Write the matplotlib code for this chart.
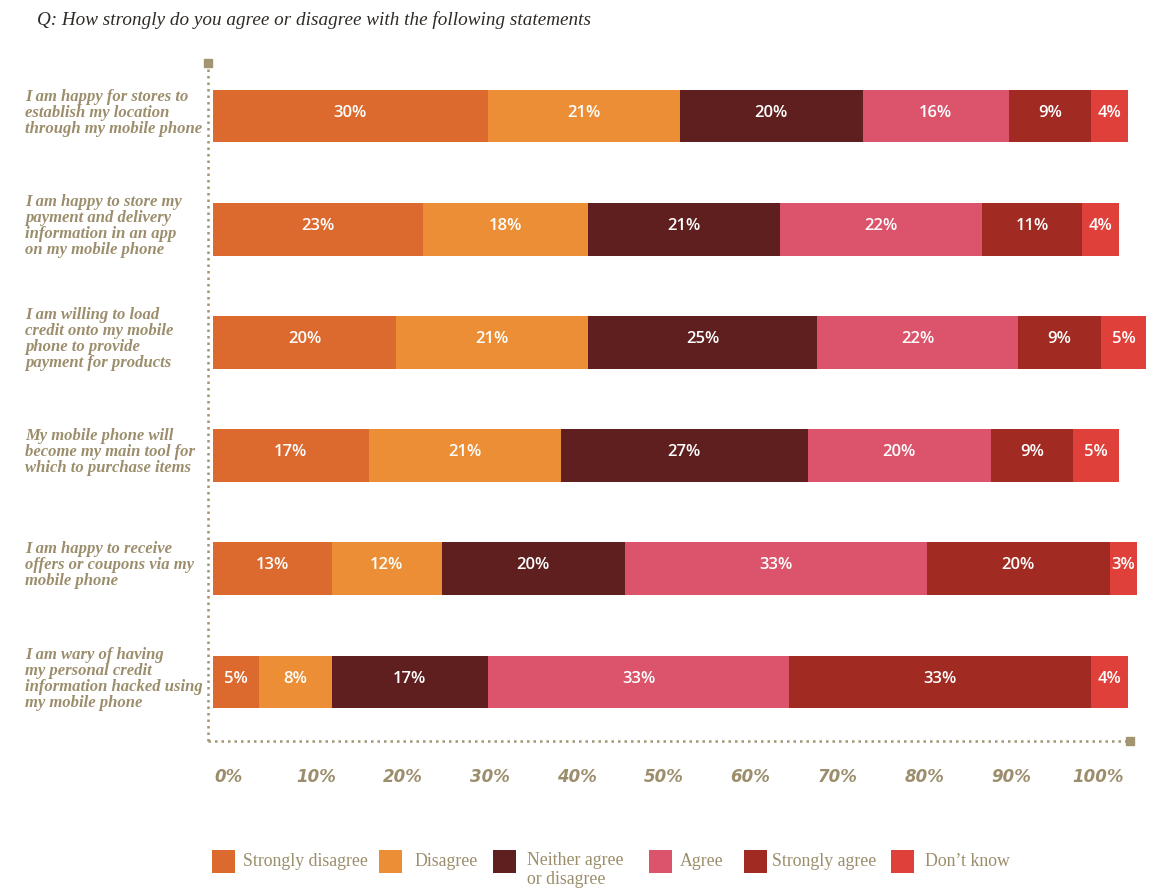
import matplotlib
matplotlib.use("Agg")
import numpy as np
import matplotlib.pyplot as plt
from matplotlib.patches import Rectangle
from matplotlib.transforms import blended_transform_factory

# ---- data -------------------------------------------------------------
statements = [
    "I am happy for stores to\nestablish my location\nthrough my mobile phone",
    "I am happy to store my\npayment and delivery\ninformation in an app\non my mobile phone",
    "I am willing to load\ncredit onto my mobile\nphone to provide\npayment for products",
    "My mobile phone will\nbecome my main tool for\nwhich to purchase items",
    "I am happy to receive\noffers or coupons via my\nmobile phone",
    "I am wary of having\nmy personal credit\ninformation hacked using\nmy mobile phone",
]
categories = ["Strongly disagree", "Disagree", "Neither agree\nor disagree",
              "Agree", "Strongly agree", "Don\u2019t know"]
strongly_disagree = [30, 23, 20, 17, 13, 5]
disagree = [21, 18, 21, 21, 12, 8]
neither = [20, 21, 25, 27, 20, 17]
agree = [16, 22, 22, 20, 33, 33]
strongly_agree = [9, 11, 9, 9, 20, 33]
dont_know = [4, 4, 5, 5, 3, 4]
tick_labels = ["0%", "10%", "20%", "30%", "40%", "50%",
               "60%", "70%", "80%", "90%", "100%"]

series = [strongly_disagree, disagree, neither, agree, strongly_agree, dont_know]
colors = ["#DC6A2F", "#EB8E35", "#5E1F1E", "#DB546B", "#A12A22", "#E0403A"]
TEXT = "#9C8E6C"
AXIS = "#A39572"

# ---- figure -----------------------------------------------------------
W, H = 1152, 891
fig = plt.figure(figsize=(W / 100, H / 100), dpi=100)

def fx(px):
    return px / W

def fy(py):
    return 1 - py / H

ax_l, ax_r, ax_t, ax_b = 208, 1130, 63, 741
ax = fig.add_axes([fx(ax_l), fy(ax_b), fx(ax_r - ax_l), (ax_b - ax_t) / H])

scale = 9.15          # pixels per percentage point
bar_start = 213
ax.set_xlim(-(bar_start - ax_l) / scale, (ax_r - bar_start) / scale)
row_gap = 113.2
first_center = 116
ax.set_ylim((ax_b - first_center) / row_gap, (ax_t - first_center) / row_gap)
ax.axis("off")

y = np.arange(len(statements))
left = np.zeros(len(statements))
for vals, col in zip(series, colors):
    vals = np.array(vals, dtype=float)
    ax.barh(y, vals, left=left, height=0.468, color=col,
            edgecolor="none", clip_on=False)
    for yi, l, v in zip(y, left, vals):
        ax.text(l + v / 2, yi - 0.03, f"{int(v)}%", ha="center", va="center",
                color="white", fontsize=12, family="Open Sans",
                weight="semibold", clip_on=False)
    left += vals

# dotted frame with square end caps
ax.plot([0, 0], [0, 1], transform=ax.transAxes, color=AXIS, lw=1.8,
        linestyle=(0, (1, 1.6)), clip_on=False)
ax.plot([0, 1], [0, 0], transform=ax.transAxes, color=AXIS, lw=1.8,
        linestyle=(0, (1, 1.6)), clip_on=False)
ax.plot([0], [1], marker="s", ms=6, color=AXIS, transform=ax.transAxes, clip_on=False)
ax.plot([1], [0], marker="s", ms=6, color=AXIS, transform=ax.transAxes, clip_on=False)

# percentage scale under the frame
tick_px = np.linspace(229, 1098, len(tick_labels))
for px, lab in zip(tick_px, tick_labels):
    fig.text(fx(px), fy(777), lab, ha="center", va="center", color=TEXT,
             fontsize=12, family="DejaVu Sans", weight="bold", style="italic")

# statement labels
trans = blended_transform_factory(fig.transFigure, ax.transData)
for yi, s in zip(y, statements):
    ax.text(fx(25), yi - 0.03, s, transform=trans, ha="left", va="center",
            multialignment="left", color=TEXT, fontsize=12,
            family="Liberation Serif", weight="bold", style="italic",
            linespacing=1.0)

# title
fig.text(fx(37), fy(20), "Q: How strongly do you agree or disagree with the following statements",
         ha="left", va="center", color="#2E2A26", fontsize=13.8,
         family="Liberation Serif", style="italic")

# legend
leg_sq = [212, 379, 493, 649, 744, 891]
leg_tx = [243, 414, 527, 680, 772, 925]
sq = 23
for sx, tx, lab, col in zip(leg_sq, leg_tx, categories, colors):
    fig.patches.append(Rectangle((fx(sx), fy(873)), fx(sq), sq / H,
                                 transform=fig.transFigure, facecolor=col,
                                 edgecolor="none"))
    if "\n" in lab:
        fig.text(fx(tx), fy(852), lab, ha="left", va="top", color=TEXT,
                 fontsize=12.8, family="Liberation Serif", linespacing=1.15)
    else:
        fig.text(fx(tx), fy(862), lab, ha="left", va="center", color=TEXT,
                 fontsize=12.8, family="Liberation Serif")

fig.savefig("out.png", dpi=100, facecolor="white")
